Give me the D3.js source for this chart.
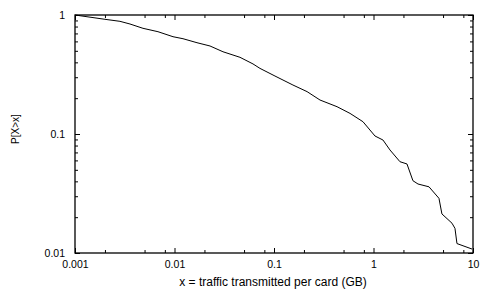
<!DOCTYPE html>
<html>
<head>
<meta charset="utf-8">
<script src="https://cdn.jsdelivr.net/npm/d3@7"></script>
<style>
  body { margin: 0; background: #fff; }
  text { font-family: "Liberation Sans", Arial, sans-serif; font-size: 10px; fill: #000; }
</style>
</head>
<body>
<svg width="484" height="291"></svg>
<script>
// CCDF of traffic per card
var trafficGB = [0.001, 0.002, 0.00283, 0.00357, 0.00482, 0.00682, 0.00966, 0.01217, 0.01683,
    0.02275, 0.0307, 0.0455, 0.0615, 0.0723, 0.1023, 0.155, 0.215, 0.29, 0.43, 0.581, 0.784,
    1.035, 1.245, 1.464, 1.845, 2.17, 2.49, 2.8, 3.61, 4.55, 4.87, 6.15, 6.59, 6.9, 9.77];
var probGreater = [1.0, 0.92, 0.885, 0.84, 0.773, 0.724, 0.657, 0.632, 0.585,
    0.549, 0.491, 0.441, 0.388, 0.356, 0.307, 0.258, 0.227, 0.193, 0.1696, 0.149, 0.1268,
    0.0962, 0.089, 0.0734, 0.0585, 0.056, 0.0405, 0.038, 0.036, 0.0288, 0.0213, 0.0178, 0.0161, 0.012, 0.0108];
var xTickLabels = ["0.001", "0.01", "0.1", "1", "10"];
var yTickLabels = ["0.01", "0.1", "1"];

var svg = d3.select("svg"),
    plotL = 75, plotR = 473, plotT = 15, plotB = 253;

var x = d3.scaleLog().domain([0.001, 10]).range([plotL, plotR]);
var y = d3.scaleLog().domain([0.01, 1]).range([plotB, plotT]);

var xMajor = xTickLabels.map(Number);
var yMajor = yTickLabels.map(Number);
var xMinor = [], yMinor = [];
xMajor.slice(0, -1).forEach(function (d) {
    [2, 5, 8].forEach(function (m) { xMinor.push(d * m); });
});
yMajor.slice(0, -1).forEach(function (d) {
    for (var m = 2; m <= 9; m++) yMinor.push(d * m);
});

// inward ticks on all four sides (gnuplot style)
function tickAxis(axisFn, scale, values, len, tx) {
    svg.append("g")
        .attr("transform", tx)
        .call(axisFn(scale).tickValues(values).tickSize(len).tickFormat(""))
        .call(function (g) { g.select(".domain").remove(); })
        .selectAll("line").attr("stroke", "#000");
}
tickAxis(d3.axisTop, x, xMajor, 5, "translate(0," + plotB + ")");
tickAxis(d3.axisTop, x, xMinor, 3, "translate(0," + plotB + ")");
tickAxis(d3.axisBottom, x, xMajor, 5, "translate(0," + plotT + ")");
tickAxis(d3.axisBottom, x, xMinor, 3, "translate(0," + plotT + ")");
tickAxis(d3.axisRight, y, yMajor, 5, "translate(" + plotL + ",0)");
tickAxis(d3.axisRight, y, yMinor, 3, "translate(" + plotL + ",0)");
tickAxis(d3.axisLeft, y, yMajor, 5, "translate(" + plotR + ",0)");
tickAxis(d3.axisLeft, y, yMinor, 3, "translate(" + plotR + ",0)");

// tick labels
svg.append("g")
    .attr("transform", "translate(0," + plotB + ")")
    .call(d3.axisBottom(x).tickValues(xMajor).tickSize(0).tickPadding(8)
        .tickFormat(function (d, i) { return xTickLabels[i]; }))
    .call(function (g) { g.select(".domain").remove(); })
    .selectAll("text").style("font-size", "10.5px").style("font-family", "Liberation Sans, Arial, sans-serif");

svg.append("g")
    .attr("transform", "translate(" + plotL + ",0)")
    .call(d3.axisLeft(y).tickValues(yMajor).tickSize(0).tickPadding(10)
        .tickFormat(function (d, i) { return yTickLabels[i]; }))
    .call(function (g) { g.select(".domain").remove(); })
    .selectAll("text").style("font-size", "10.5px").style("font-family", "Liberation Sans, Arial, sans-serif");

// border
svg.append("rect")
    .attr("x", plotL).attr("y", plotT)
    .attr("width", plotR - plotL).attr("height", plotB - plotT)
    .attr("fill", "none").attr("stroke", "#000").attr("stroke-width", 1.3);

// curve
var line = d3.line()
    .x(function (d, i) { return x(trafficGB[i]); })
    .y(function (d) { return y(d); });
svg.append("path")
    .datum(probGreater)
    .attr("d", line)
    .attr("fill", "none")
    .attr("stroke", "#000")
    .attr("stroke-width", 1);

// axis titles
svg.append("text")
    .attr("x", (plotL + plotR) / 2 - 1).attr("y", 286)
    .attr("text-anchor", "middle")
    .style("font-size", "12px")
    .text("x = traffic transmitted per card (GB)");
svg.append("text")
    .attr("transform", "translate(19,129) rotate(-90)")
    .attr("text-anchor", "middle")
    .text("P[X>x]");
</script>
</body>
</html>
